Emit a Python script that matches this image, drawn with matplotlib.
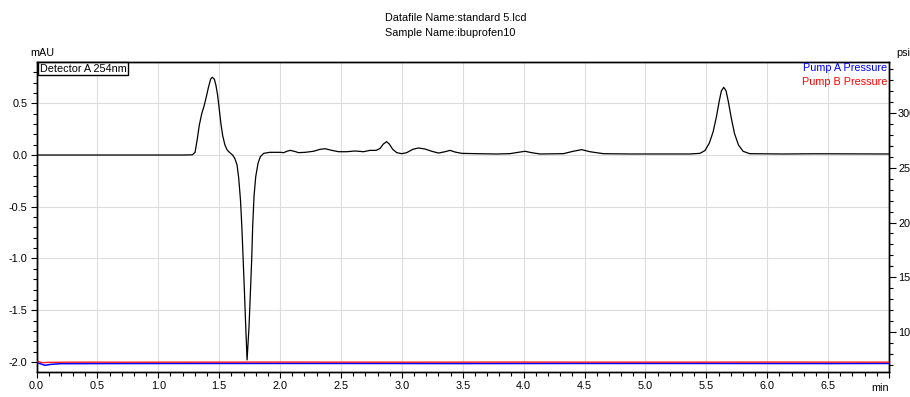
import matplotlib
matplotlib.use("Agg")
import matplotlib.pyplot as plt
from matplotlib.ticker import MultipleLocator, FixedLocator
import numpy as np

plt.rcParams['font.family'] = ['Liberation Sans Narrow', 'Liberation Sans', 'DejaVu Sans']

# ---- data ----
title_line1 = "Datafile Name:standard 5.lcd"
title_line2 = "Sample Name:ibuprofen10"
detector_label = "Detector A 254nm"
pump_a_label = "Pump A Pressure"
pump_b_label = "Pump B Pressure"

det_time = [0.0, 0.5, 1.0, 1.2, 1.28, 1.302, 1.321, 1.337, 1.357, 1.375, 1.392, 1.411,
            1.430, 1.443, 1.460, 1.473, 1.487, 1.500, 1.514, 1.528, 1.547, 1.566, 1.588,
            1.610, 1.628, 1.647, 1.660, 1.675, 1.686, 1.697, 1.708, 1.718, 1.729, 1.745,
            1.756, 1.767, 1.775, 1.786, 1.800, 1.819, 1.838, 1.865, 1.915, 2.000, 2.030,
            2.056, 2.083, 2.116, 2.152, 2.206, 2.274, 2.328, 2.370, 2.425, 2.480, 2.548,
            2.616, 2.685, 2.739, 2.789, 2.821, 2.848, 2.875, 2.897, 2.925, 2.958, 2.999,
            3.040, 3.090, 3.136, 3.191, 3.246, 3.301, 3.355, 3.396, 3.436, 3.492, 3.614,
            3.778, 3.887, 3.955, 4.011, 4.065, 4.134, 4.326, 4.407, 4.476, 4.544, 4.654,
            4.873, 5.037, 5.366, 5.447, 5.488, 5.524, 5.556, 5.583, 5.605, 5.624, 5.643,
            5.662, 5.681, 5.703, 5.731, 5.764, 5.802, 5.856, 6.130, 6.400, 7.000]
det_mau = [0.0, 0.0, 0.0, 0.0, 0.002, 0.026, 0.16, 0.29, 0.40, 0.47, 0.55, 0.65,
           0.734, 0.752, 0.734, 0.676, 0.58, 0.45, 0.306, 0.193, 0.097, 0.048, 0.022,
           0.0, -0.032, -0.097, -0.22, -0.435, -0.69, -1.01, -1.34, -1.66, -1.98, -1.66,
           -1.34, -1.01, -0.69, -0.40, -0.21, -0.08, -0.016, 0.016, 0.026, 0.026, 0.023,
           0.036, 0.045, 0.036, 0.023, 0.026, 0.036, 0.055, 0.061, 0.045, 0.032, 0.032,
           0.039, 0.032, 0.045, 0.045, 0.064, 0.106, 0.129, 0.106, 0.055, 0.023, 0.013,
           0.023, 0.055, 0.068, 0.058, 0.036, 0.019, 0.032, 0.045, 0.029, 0.016, 0.013,
           0.010, 0.013, 0.026, 0.036, 0.023, 0.010, 0.013, 0.036, 0.052, 0.032, 0.013,
           0.010, 0.010, 0.010, 0.016, 0.042, 0.113, 0.225, 0.370, 0.515, 0.621, 0.654,
           0.621, 0.515, 0.370, 0.209, 0.097, 0.036, 0.013, 0.010, 0.012, 0.010]

pump_a_time = [0.0, 0.03, 0.07, 0.12, 0.2, 0.6, 1.5, 2.5, 3.5, 4.5, 5.5, 6.5, 7.0]
pump_a_psi = [72.3, 71.1, 69.6, 70.5, 71.1, 71.2, 71.3, 71.3, 71.2, 71.3, 71.3, 71.2, 71.3]
pump_b_time = [0.0, 0.05, 0.1, 0.3, 1.0, 2.0, 3.0, 4.0, 5.0, 6.0, 7.0]
pump_b_psi = [73.5, 72.0, 72.3, 72.5, 72.5, 72.6, 72.5, 72.6, 72.5, 72.6, 72.5]

x_major = [0.0, 0.5, 1.0, 1.5, 2.0, 2.5, 3.0, 3.5, 4.0, 4.5, 5.0, 5.5, 6.0, 6.5, 7.0]
x_labels = ["0.0", "0.5", "1.0", "1.5", "2.0", "2.5", "3.0", "3.5", "4.0", "4.5",
            "5.0", "5.5", "6.0", "6.5", ""]
y_left_major = [-2.0, -1.5, -1.0, -0.5, 0.0, 0.5]
y_left_labels = ["-2.0", "-1.5", "-1.0", "-0.5", "0.0", "0.5"]
y_right_major = [100, 150, 200, 250, 300]
y_right_labels = ["100", "150", "200", "250", "300"]

# ---- figure ----
W, H = 910, 397
fig = plt.figure(figsize=(W / 100, H / 100), dpi=100)
L, R, T, B = 36.5, 889, 62, 372
ax = fig.add_axes([L / W, 1 - B / H, (R - L) / W, (B - T) / H])

FS = 7.8
ax.plot(det_time, det_mau, color='black', lw=0.9, zorder=3)
ax.set_xlim(0, 7.0)
ax.set_ylim(-2.097, 0.899)

ax.xaxis.set_major_locator(FixedLocator(x_major))
ax.set_xticklabels(x_labels)
ax.xaxis.set_minor_locator(MultipleLocator(0.1))
ax.yaxis.set_major_locator(FixedLocator(y_left_major))
ax.set_yticklabels(y_left_labels)
ax.yaxis.set_minor_locator(MultipleLocator(0.1))
ax.tick_params(axis='both', which='major', direction='out', length=4.5, width=0.8,
               labelsize=FS, pad=2)
ax.tick_params(axis='both', which='minor', direction='out', length=3, width=0.8)
ax.grid(True, which='major', color='#dddddd', lw=0.8, zorder=0)
ax.set_axisbelow(True)
for s in ax.spines.values():
    s.set_linewidth(1.0)
    s.set_color('black')

ax2 = ax.twinx()
ax2.plot(pump_a_time, pump_a_psi, color='#0000ff', lw=1.1, zorder=3)
ax2.plot(pump_b_time, pump_b_psi, color='#ff0000', lw=1.0, zorder=3, alpha=0.85)
ax2.set_ylim(63.5, 346.6)
ax2.yaxis.set_major_locator(FixedLocator(y_right_major))
ax2.set_yticklabels(y_right_labels)
ax2.yaxis.set_minor_locator(MultipleLocator(10))
ax2.tick_params(axis='y', which='major', direction='out', length=5, width=0.8,
                labelsize=FS, pad=1.5)
ax2.tick_params(axis='y', which='minor', direction='out', length=3, width=0.8)
for s in ax2.spines.values():
    s.set_linewidth(1.0)
    s.set_color('black')

# texts
fig.text(385 / W, 1 - 18 / H, title_line1, ha='left', va='center', fontsize=FS)
fig.text(385 / W, 1 - 33 / H, title_line2, ha='left', va='center', fontsize=FS)
fig.text(42 / W, 1 - 53 / H, "mAU", ha='center', va='center', fontsize=FS)
fig.text(896 / W, 1 - 53 / H, "psi", ha='left', va='center', fontsize=FS)
ax.text(1.0, -0.035, "min", transform=ax.transAxes, ha='right', va='top', fontsize=FS)
ax.text(0.004, 0.994, detector_label, transform=ax.transAxes, ha='left', va='top',
        fontsize=FS, zorder=5,
        bbox=dict(boxstyle='square,pad=0.15', fc='white', ec='black', lw=1.0))
ax2.text(0.998, 0.997, pump_a_label, transform=ax2.transAxes, ha='right', va='top',
         fontsize=FS, color='#0000ff')
ax2.text(0.998, 0.952, pump_b_label, transform=ax2.transAxes, ha='right', va='top',
         fontsize=FS, color='#ff0000')

fig.savefig("out.png", dpi=100)
